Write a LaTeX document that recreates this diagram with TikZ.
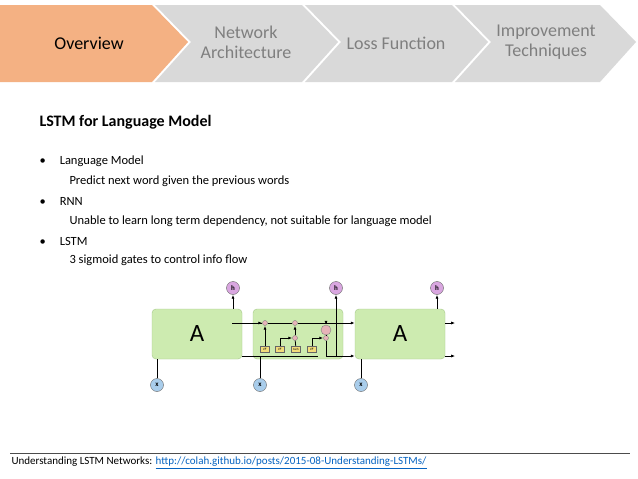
\documentclass[tikz,border=0pt]{standalone}
\usepackage{fontspec}
\setmainfont{Carlito}
\usetikzlibrary{arrows.meta, positioning}
\definecolor{orng}{HTML}{F4B183}
\definecolor{chev}{HTML}{D9D9D9}
\definecolor{txtgray}{HTML}{7F7F7F}
\definecolor{cellgreen}{HTML}{CDEBB0}
\definecolor{cellline}{HTML}{A6C98A}
\definecolor{hpurple}{HTML}{D9A6E0}
\definecolor{xblue}{HTML}{A9CDEB}
\definecolor{gatey}{HTML}{F3DC7A}
\definecolor{oppink}{HTML}{E6B3B8}
\definecolor{linkblue}{HTML}{0563C1}
\tikzset{
	cell/.style={draw=cellline, fill=cellgreen, rounded corners=4pt, minimum width=90pt, minimum height=50pt, inner sep=0pt},
	hnode/.style={circle, draw=black!60, fill=hpurple, minimum size=13pt, inner sep=0pt, font=\scriptsize\bfseries},
	xnode/.style={circle, draw=black!60, fill=xblue, minimum size=13pt, inner sep=0pt, font=\scriptsize\bfseries},
	gate/.style={draw=black!60, fill=gatey, minimum width=9pt, minimum height=6pt, inner sep=0pt, font=\fontsize{3}{3}\selectfont},
	op/.style={circle, draw=black!50, fill=oppink, minimum size=5pt, inner sep=0pt},
	flow/.style={thick, -{Latex[length=4pt]}},
	chevtxt/.style={font=\fontsize{18}{20}\selectfont, align=center},
	bullet/.style={anchor=west, font=\fontsize{12.5}{14}\selectfont},
	sub/.style={anchor=west, font=\fontsize{12.5}{14}\selectfont},
}
\begin{document}
\begin{tikzpicture}[x=1pt, y=-1pt]
	\useasboundingbox (0,0) rectangle (638,479);
	\fill[white] (0,0) rectangle (638,479);

	% chevrons
	\fill[orng] (0,5) -- (152,5) -- (188,42) -- (152,82) -- (0,82) -- cycle;
	\fill[chev] (155,5) -- (302,5) -- (338,42) -- (302,82) -- (155,82) -- (191,42) -- cycle;
	\fill[chev] (305,5) -- (452,5) -- (488,42) -- (452,82) -- (305,82) -- (341,42) -- cycle;
	\fill[chev] (455,5) -- (600,5) -- (636,42) -- (600,82) -- (455,82) -- (491,42) -- cycle;
	\node[chevtxt] (ov) at (89,43) {Overview};
	\node[chevtxt, text=txtgray] (na) at (246,42) {Network\\Architecture};
	\node[chevtxt, text=txtgray] (lf) at (396,43) {Loss Function};
	\node[chevtxt, text=txtgray] (it) at (546,42) {Improvement\\Techniques};

	% title and bullets
	\node[anchor=west, font=\bfseries\fontsize{16}{18}\selectfont] (title) at (36,122) {LSTM for Language Model};
	\node[bullet] (b1) at (36,161) {•\hspace{14pt}Language Model};
	\node[sub] (s1) at (66,181) {Predict next word given the previous words};
	\node[bullet] (b2) at (36,201) {•\hspace{14pt}RNN};
	\node[sub] (s2) at (66,221) {Unable to learn long term dependency, not suitable for language model};
	\node[bullet] (b3) at (36,241) {•\hspace{14pt}LSTM};
	\node[sub] (s3) at (66,260) {3 sigmoid gates to control info flow};

	% LSTM chain
	\node[cell] (c1) at (197,334) {\Huge A};
	\node[cell] (c2) at (298,334) {};
	\node[cell] (c3) at (400,334) {\Huge A};
	\node[hnode] (h1) at (233,288) {h};
	\node[hnode] (h2) at (336,288) {h};
	\node[hnode] (h3) at (437,288) {h};
	\node[xnode] (x1) at (157,385) {x};
	\node[xnode] (x2) at (260,385) {x};
	\node[xnode] (x3) at (361,385) {x};
	\draw[flow] (c1.north -| h1) -- (h1);
	\draw[flow] (c3.north -| h3) -- (h3);
	\draw[thick] (x1) -- (x1 |- c1.south);
	\draw[thick] (x3) -- (x3 |- c3.south);

	% inner cell
	\node[op] (m1) at (265,323) {};
	\node[op] (p1) at (295,323) {};
	\node[op] (m2) at (295,338) {};
	\node[op, minimum width=10pt, minimum height=5pt, rounded corners=2pt] (th) at (326,330) {};
	\node[op] (m3) at (326,338) {};
	\node[gate] (g1) at (265,349) {$\sigma$};
	\node[gate] (g2) at (280,349) {$\sigma$};
	\node[gate] (g3) at (296,349) {tanh};
	\node[gate] (g4) at (312,349) {$\sigma$};
	\draw[flow] (c1.east |- m1) -- (m1) -- (p1) -- (c3.west |- p1);
	\draw[thick] (c1.east |- 0,356) -- (318,356);
	\draw[thick] (x2) -- (260,356);
	\draw[flow] (g1) -- (m1);
	\draw[flow] (g2) |- (m2);
	\draw[thick] (g3) -- (m2);
	\draw[flow] (m2) -- (p1);
	\draw[flow] (g4) |- (m3);
	\draw[flow] (326,323) -- (th);
	\draw[thick] (th) -- (m3);
	\draw[thick] (m3) |- (336,356);
	\draw[flow] (336,356) -- (h2);
	\draw[flow] (336,356) -- (c3.west |- 0,356);
	\draw[flow] (c3.east |- p1) -- ++(10,0);
	\draw[flow] (c3.east |- 0,356) -- ++(10,0);
	\draw[flow] (c1.east |- m1) ++(-10,0) -- (m1);

	% footer
	\draw[thick, black!70] (10,453) -- (630,453);
	\node[anchor=west, font=\fontsize{11}{13}\selectfont] (ref) at (8,463) {Understanding LSTM Networks: \textcolor{linkblue}{\underline{http://colah.github.io/posts/2015-08-Understanding-LSTMs/}}};
\end{tikzpicture}
\end{document}
